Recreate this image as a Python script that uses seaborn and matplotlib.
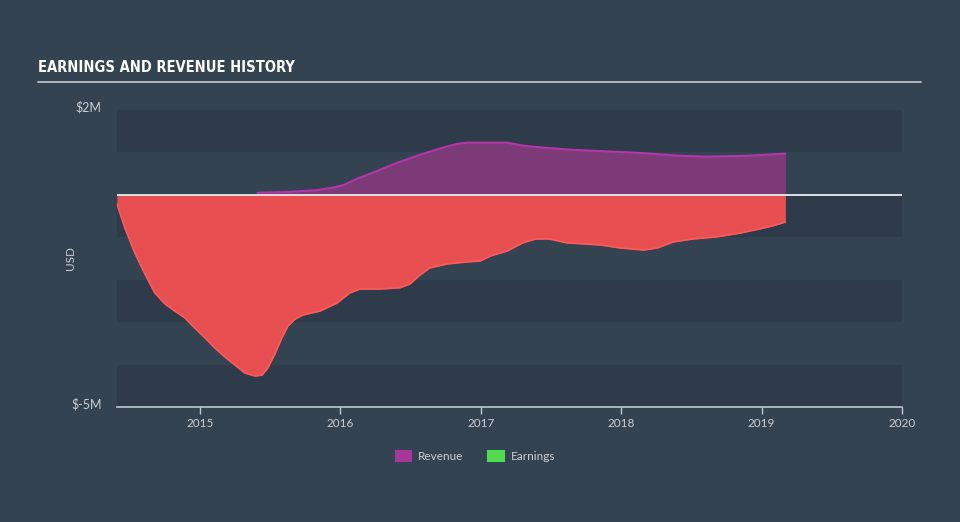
import matplotlib
matplotlib.use("Agg")
import matplotlib.pyplot as plt
import seaborn as sns
import pandas as pd
from matplotlib.patches import Patch
import matplotlib.transforms as mtrans

# ---- data (USD millions) ----
earn_year = [2014.409, 2014.466, 2014.537, 2014.608, 2014.679, 2014.751, 2014.822, 2014.893,
             2014.964, 2015.036, 2015.107, 2015.178, 2015.249, 2015.321, 2015.392, 2015.442,
             2015.484, 2015.534, 2015.584, 2015.627, 2015.677, 2015.734, 2015.855, 2015.976,
             2016.068, 2016.140, 2016.282, 2016.425, 2016.496, 2016.567, 2016.638, 2016.759,
             2016.902, 2016.994, 2017.07, 2017.19, 2017.30, 2017.39, 2017.49, 2017.61,
             2017.85, 2017.99, 2018.16, 2018.26, 2018.37, 2018.51, 2018.68, 2018.85,
             2018.99, 2019.08, 2019.17]
earn_val = [-0.21, -0.78, -1.37, -1.86, -2.31, -2.57, -2.74, -2.90,
            -3.14, -3.37, -3.61, -3.82, -4.01, -4.20, -4.27, -4.25,
            -4.08, -3.75, -3.37, -3.09, -2.93, -2.83, -2.74, -2.55,
            -2.31, -2.22, -2.22, -2.19, -2.10, -1.89, -1.72, -1.63,
            -1.58, -1.56, -1.44, -1.32, -1.13, -1.04, -1.04, -1.13,
            -1.18, -1.25, -1.30, -1.25, -1.11, -1.04, -0.99, -0.90,
            -0.80, -0.73, -0.64]

rev_year = [2015.41, 2015.64, 2015.83, 2015.95, 2016.03, 2016.12, 2016.23, 2016.40,
            2016.59, 2016.73, 2016.83, 2016.90, 2017.19, 2017.30, 2017.42, 2017.66,
            2018.13, 2018.42, 2018.61, 2018.90, 2019.17]
rev_val = [0.05, 0.07, 0.11, 0.17, 0.24, 0.38, 0.52, 0.75,
           0.97, 1.11, 1.20, 1.23, 1.23, 1.16, 1.12, 1.06,
           0.99, 0.92, 0.90, 0.92, 0.97]

x_ticks = [2015, 2016, 2017, 2018, 2019, 2020]
y_ticks = [2, -5]
y_tick_labels = ["$2M", "$-5M"]
legend_labels = ["Revenue", "Earnings"]

# ---- styling ----
BG = "#344352"
BAND = "#2e3b4a"
TXT = "#c9ced4"
EARN_FILL = "#e84f50"
EARN_LINE = "#ff5a5a"
REV_FILL = "#7c3a78"
REV_LINE = "#b436a8"

sns.set_theme(style="dark")
plt.rcParams["font.family"] = ["Lato", "DejaVu Sans"]

fig = plt.figure(figsize=(9.6, 5.22), dpi=100, facecolor=BG)
ax = fig.add_axes([117/960, 1-407/522, (902-117)/960, (407-110)/522])
ax.set_facecolor(BG)

earn = pd.DataFrame({"year": earn_year, "value": earn_val})
rev = pd.DataFrame({"year": rev_year, "value": rev_val})

for lo in [1, -1, -3, -5]:
    ax.axhspan(lo, lo + 1, color=BAND, lw=0, zorder=0)

ax.fill_between(rev["year"], 0, rev["value"], color=REV_FILL, lw=0, zorder=2)
sns.lineplot(data=rev, x="year", y="value", ax=ax, color=REV_LINE, lw=1.5, zorder=3,
             solid_joinstyle="round")
ax.fill_between(earn["year"], 0, earn["value"], color=EARN_FILL, lw=0, zorder=2)
sns.lineplot(data=earn, x="year", y="value", ax=ax, color=EARN_LINE, lw=1.2, zorder=3,
             solid_joinstyle="round")

ax.axhline(0, color="#e8ecef", lw=1.3, zorder=4)

ax.set_xlim(2014.41, 2020)
ax.set_ylim(-5, 2)
ax.set_xticks(x_ticks)
ax.set_xticklabels([str(t) for t in x_ticks], color=TXT, fontsize=8.5)
ax.set_yticks(y_ticks)
ax.set_yticklabels(y_tick_labels, color=TXT, fontsize=9)
ax.tick_params(axis="x", length=5, width=1, color="#c0c8d0", pad=3, bottom=True)
ax.tick_params(axis="y", length=0, pad=11)
off_top = mtrans.ScaledTranslation(0, 3/100, fig.dpi_scale_trans)
for lab in ax.get_yticklabels():
    lab.set_verticalalignment("center")
    lab.set_transform(lab.get_transform() + off_top)
ax.set_xlabel("")
ax.set_ylabel("USD", color=TXT, fontsize=8.5)
ax.yaxis.set_label_coords((76-117)/785, 0.5)
ax.grid(False)
for s in ["top", "right", "left"]:
    ax.spines[s].set_visible(False)
ax.spines["bottom"].set_color("#c0c8d0")
ax.spines["bottom"].set_linewidth(1.2)

# title and underline
fig.text(38/960, 1-67/522, "EARNINGS AND REVENUE HISTORY", color="#ffffff",
         fontsize=10.5, fontweight="bold", fontstretch="condensed",
         family=["Liberation Sans Narrow", "DejaVu Sans"],
         va="center", ha="left")
fig.add_artist(plt.Line2D([38/960, 921/960], [1-82/522, 1-82/522],
                          color="#b8bec6", lw=1.3, transform=fig.transFigure))

# legend
handles = [Patch(facecolor="#a8369a", edgecolor="none"),
           Patch(facecolor="#4fdc4f", edgecolor="none")]
leg = fig.legend(handles, legend_labels, loc="center", bbox_to_anchor=(475/960, 1-456/522),
                 ncol=2, frameon=False, fontsize=8.5, handlelength=1.5, handleheight=1.2,
                 columnspacing=2.0, handletextpad=0.5)
for t in leg.get_texts():
    t.set_color(TXT)

fig.savefig("out.png", dpi=100, facecolor=BG)
